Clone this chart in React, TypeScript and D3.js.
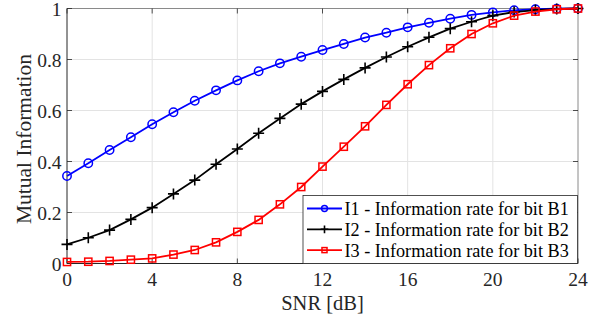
import React from "react";
import * as d3 from "d3";

// SNR axis values (dB)
const snr = [0, 1, 2, 3, 4, 5, 6, 7, 8, 9, 10, 11, 12, 13, 14, 15, 16, 17, 18, 19, 20, 21, 22, 23, 24];

// mutual information per bit
const i1 = [0.343, 0.393, 0.445, 0.495, 0.546, 0.593, 0.638, 0.679, 0.718, 0.754, 0.785, 0.811, 0.837, 0.861, 0.886, 0.905, 0.926, 0.944, 0.96, 0.975, 0.985, 0.993, 0.997, 0.999, 1.0];
const i2 = [0.075, 0.101, 0.131, 0.173, 0.219, 0.273, 0.327, 0.389, 0.449, 0.511, 0.569, 0.625, 0.675, 0.722, 0.767, 0.81, 0.85, 0.887, 0.921, 0.948, 0.972, 0.986, 0.994, 0.998, 1.0];
const i3 = [0.006, 0.007, 0.01, 0.015, 0.02, 0.035, 0.053, 0.083, 0.124, 0.171, 0.232, 0.3, 0.38, 0.458, 0.538, 0.622, 0.703, 0.778, 0.844, 0.9, 0.942, 0.972, 0.988, 0.997, 1.0];

const xTicks = [0, 4, 8, 12, 16, 20, 24];
const yTicks = [0, 0.2, 0.4, 0.6, 0.8, 1];

const seriesNames = [
  "I1 - Information rate for bit B1",
  "I2 - Information rate for bit B2",
  "I3 - Information rate for bit B3",
];
const colors = ["#0000ff", "#000000", "#ff0000"];

const W = 603;
const H = 322;
const FONT = "Liberation Serif";
const AX = "#262626";

const left = 67, right = 578, top = 8.5, bottom = 263.5;
const x = d3.scaleLinear().domain([0, 24]).range([left, right]);
const y = d3.scaleLinear().domain([0, 1]).range([bottom, top]);
const line = d3.line<number>().x((_, i) => x(snr[i])).y((d) => y(d));

// MATLAB-ish markers: o, +, s
const Marker = ({ k, cx, cy, scale = 1 }: { k: number; cx: number; cy: number; scale?: number }) => {
  if (k === 0) {
    return <circle cx={cx} cy={cy} r={4.2 * scale} fill="none" stroke={colors[k]} strokeWidth={1.5} />;
  }
  if (k === 1) {
    const s = 5.5 * scale;
    return <path d={`M${cx - s},${cy}H${cx + s}M${cx},${cy - s}V${cy + s}`} stroke={colors[k]} strokeWidth={1.6} fill="none" />;
  }
  const s = 3.6 * scale;
  return <rect x={cx - s} y={cy - s} width={2 * s} height={2 * s} fill="none" stroke={colors[k]} strokeWidth={1.5} />;
};

const App = () => {
  const data = [i1, i2, i3];
  const tl = 5;
  return (
    <svg width={W} height={H} style={{ position: "absolute", left: 0, top: 0 }}>
      <rect width={W} height={H} fill="#fff" />
      {/* grid */}
      <g stroke="#e3e3e3" strokeWidth={1}>
        {xTicks.slice(1, -1).map((t) => (
          <line key={"gx" + t} x1={x(t)} x2={x(t)} y1={top} y2={bottom} />
        ))}
        {yTicks.slice(1, -1).map((t) => (
          <line key={"gy" + t} x1={left} x2={right} y1={y(t)} y2={y(t)} />
        ))}
      </g>
      {/* box */}
      <line x1={left} x2={right} y1={top} y2={top} stroke="#8a8a8a" />
      <line x1={right} x2={right} y1={top} y2={bottom} stroke="#8a8a8a" />
      <line x1={left} x2={right} y1={bottom} y2={bottom} stroke={AX} />
      <line x1={left} x2={left} y1={top} y2={bottom} stroke={AX} />
      {/* ticks both sides */}
      <g stroke={AX} strokeWidth={0.8}>
        {xTicks.map((t) => (
          <g key={"tx" + t}>
            <line x1={x(t)} x2={x(t)} y1={bottom} y2={bottom - tl} />
            <line x1={x(t)} x2={x(t)} y1={top} y2={top + tl} />
          </g>
        ))}
        {yTicks.map((t) => (
          <g key={"ty" + t}>
            <line x1={left} x2={left + tl} y1={y(t)} y2={y(t)} />
            <line x1={right} x2={right - tl} y1={y(t)} y2={y(t)} />
          </g>
        ))}
      </g>
      {/* tick labels */}
      <g fontFamily={FONT} fontSize={19.5} fill={AX}>
        {xTicks.map((t) => (
          <text key={"lx" + t} x={x(t)} y={bottom + 22.5} textAnchor="middle">{t}</text>
        ))}
        {yTicks.map((t) => (
          <text key={"ly" + t} x={left - 5.5} y={y(t) + 7.8} textAnchor="end">{d3.format("~g")(t)}</text>
        ))}
      </g>
      {/* axis titles */}
      <text x={(left + right) / 2} y={310} textAnchor="middle" fill={AX} fontFamily={FONT} fontSize={20.5}>SNR [dB]</text>
      <text transform={`translate(31,${(top + bottom) / 2 + 3}) rotate(-90)`} textAnchor="middle" fill={AX} fontFamily={FONT} fontSize={21.5}>
        Mutual Information
      </text>
      {/* series */}
      {data.map((vals, k) => (
        <g key={"s" + k}>
          <path d={line(vals) || ""} fill="none" stroke={colors[k]} strokeWidth={1.8} />
          {vals.map((v, i) => (
            <Marker key={i} k={k} cx={x(snr[i])} cy={y(v)} />
          ))}
        </g>
      ))}
      {/* legend */}
      <g>
        <rect x={303} y={195.5} width={274.5} height={68} fill="#fff" stroke={AX} strokeWidth={0.8} />
        {seriesNames.map((name, k) => {
          const cy = 208.5 + k * 20.8;
          return (
            <g key={name}>
              <line x1={307} x2={342} y1={cy} y2={cy} stroke={colors[k]} strokeWidth={1.8} />
              <Marker k={k} cx={324.5} cy={cy} scale={0.7} />
              <text x={344.5} y={cy + 6.5} fill="#000" fontFamily={FONT} fontSize={18.2}>{name}</text>
            </g>
          );
        })}
      </g>
    </svg>
  );
};

export default App;
